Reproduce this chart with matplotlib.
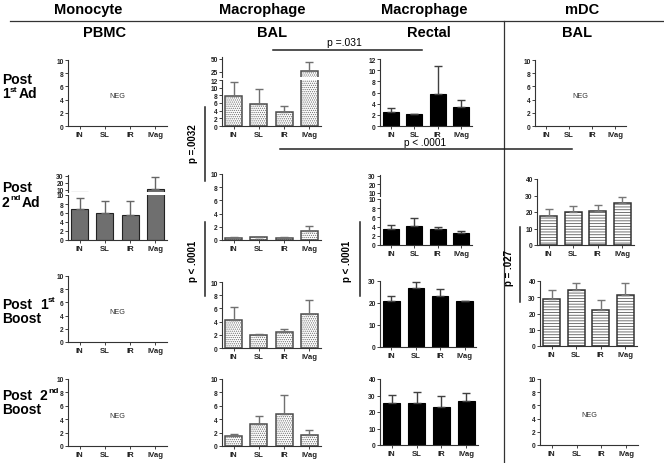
import numpy as np
import matplotlib
matplotlib.use('Agg')
import matplotlib.pyplot as plt

plt.rcParams['font.family'] = ['Liberation Sans', 'DejaVu Sans']
plt.rcParams['hatch.linewidth'] = 0.6

routes = ['IN', 'SL', 'IR', 'IVag']

# means and upper error (SEM)
mono_pbmc_ad2 = [6.8, 5.9, 5.6, 11.5]
mono_pbmc_ad2_err = [2.5, 2.7, 3.0, 16.5]

mac_bal_ad1 = [7.9, 5.7, 3.6, 27.0]
mac_bal_ad1_err = [3.6, 4.0, 1.5, 18.0]
mac_bal_ad2 = [0.35, 0.4, 0.35, 1.4]
mac_bal_ad2_err = [0.1, 0.1, 0.1, 0.7]
mac_bal_b1 = [4.3, 2.0, 2.5, 5.1]
mac_bal_b1_err = [1.9, 0.15, 0.4, 2.2]
mac_bal_b2 = [1.5, 3.3, 4.8, 1.6]
mac_bal_b2_err = [0.3, 1.2, 2.8, 0.8]

mac_rec_ad1 = [2.5, 2.1, 5.8, 3.4]
mac_rec_ad1_err = [0.8, 0.1, 5.0, 1.3]
mac_rec_ad2 = [3.4, 4.2, 3.4, 2.7]
mac_rec_ad2_err = [0.9, 1.7, 0.6, 0.4]
mac_rec_b1 = [21.0, 27.0, 23.2, 20.7]
mac_rec_b1_err = [2.0, 2.5, 3.1, 0.3]
mac_rec_b2 = [25.2, 25.7, 22.8, 26.5]
mac_rec_b2_err = [5.2, 6.5, 7.2, 5.3]

mdc_bal_ad2 = [17.8, 20.0, 20.5, 25.5]
mdc_bal_ad2_err = [4.0, 3.6, 3.8, 3.7]
mdc_bal_b1 = [28.7, 34.7, 22.0, 31.2]
mdc_bal_b1_err = [5.5, 4.2, 6.6, 7.7]

W, H = 664, 464
fig = plt.figure(figsize=(W / 100, H / 100), dpi=100)
x = np.arange(len(routes))

STYLES = {
    'dots': dict(face='white', hatch='........', hcol='#707070', edge='#4d4d4d', ecol='#707070'),
    'black': dict(face='black', hatch=None, hcol='black', edge='black', ecol='#404040'),
    'gray': dict(face='#6f6f6f', hatch=None, hcol='#6f6f6f', edge='#222222', ecol='#666666'),
    'lines': dict(face='white', hatch='------', hcol='#5a5a5a', edge='#333333', ecol='#777777'),
}


def px_axes(x0, y0, x1, y1):
    return fig.add_axes([x0 / W, 1 - y1 / H, (x1 - x0) / W, (y1 - y0) / H])


def style_ax(ax, xlabels=True, bottom=True):
    for s in ['top', 'right']:
        ax.spines[s].set_visible(False)
    ax.spines['left'].set_color('#333333')
    ax.spines['left'].set_linewidth(0.8)
    ax.spines['bottom'].set_color('#333333')
    ax.spines['bottom'].set_linewidth(0.8)
    ax.set_xlim(-0.47, 3.47)
    ax.set_xticks(x)
    ax.tick_params(axis='y', labelsize=4.8, length=2, width=0.6, pad=1, colors='#222222')
    ax.tick_params(axis='x', labelsize=5.6, length=2, width=0.6, pad=1.5, colors='#222222')
    if xlabels:
        ax.set_xticklabels(routes, fontweight='bold')
    else:
        ax.set_xticklabels([])
    if not bottom:
        ax.spines['bottom'].set_visible(False)
        ax.tick_params(axis='x', length=0)
    for t in ax.get_yticklabels():
        t.set_fontweight('bold')


def draw_bars(ax, means, errs, kind, err_min=None):
    st = STYLES[kind]
    if st['hatch']:
        ax.bar(x, means, 0.68, color=st['face'], edgecolor=st['hcol'], hatch=st['hatch'], linewidth=0)
        ax.bar(x, means, 0.68, fill=False, edgecolor=st['edge'], linewidth=1.1)
    else:
        ax.bar(x, means, 0.68, color=st['face'], edgecolor=st['edge'], linewidth=0.8)
    means = np.asarray(means, dtype=float)
    errs = np.asarray(errs, dtype=float)
    keep = np.ones(len(means), dtype=bool)
    if err_min is not None:
        keep = means + errs > err_min
    if keep.any():
        ax.errorbar(x[keep], means[keep], yerr=[np.zeros(keep.sum()), errs[keep]], fmt='none',
                    ecolor=st['ecol'], elinewidth=1, capsize=3, capthick=1)


def simple_panel(box, ymax, step, means=None, errs=None, kind=None):
    ax = px_axes(*box)
    if means is None:
        ax.text(1.5, 4.6, 'NEG', ha='center', va='center', fontsize=5.2, color='#333333')
    else:
        draw_bars(ax, means, errs, kind)
    ax.set_ylim(0, ymax)
    ax.set_yticks(np.arange(0, ymax + 0.01, step))
    style_ax(ax)
    return ax


def broken_panel(box, split, low, high, low_step, high_ticks, means, errs, kind):
    x0, y0, x1, y1 = box
    top = px_axes(x0, y0, x1, split - 3)
    bot = px_axes(x0, split, x1, y1)
    draw_bars(bot, means, errs, kind)
    draw_bars(top, means, errs, kind, err_min=low)
    bot.set_ylim(0, low)
    bot.set_yticks(np.arange(0, low + 0.01, low_step))
    top.set_ylim(*high)
    top.set_yticks(high_ticks)
    style_ax(bot)
    style_ax(top, xlabels=False, bottom=False)
    return top, bot


# column 1: Monocyte PBMC
simple_panel((68, 61, 167, 127), 10, 2)
broken_panel((68, 176, 167, 241), 196, 10, (7.0, 31), 2, [10, 20, 30],
             mono_pbmc_ad2, mono_pbmc_ad2_err, 'gray')
simple_panel((68, 277, 167, 343), 10, 2)
simple_panel((68, 380, 167, 447), 10, 2)

# column 2: Macrophage BAL
broken_panel((222, 58, 321, 127), 81, 12, (14, 54), 2, [25, 50],
             mac_bal_ad1, mac_bal_ad1_err, 'dots')
simple_panel((222, 175, 321, 241), 10, 2, mac_bal_ad2, mac_bal_ad2_err, 'dots')
simple_panel((222, 283, 321, 349), 10, 2, mac_bal_b1, mac_bal_b1_err, 'dots')
simple_panel((222, 380, 321, 447), 10, 2, mac_bal_b2, mac_bal_b2_err, 'dots')

# column 3: Macrophage Rectal
simple_panel((380, 60, 472, 127), 12, 2, mac_rec_ad1, mac_rec_ad1_err, 'black')
broken_panel((380, 176, 472, 246), 200, 10, (6.5, 31), 2, [10, 20, 30],
             mac_rec_ad2, mac_rec_ad2_err, 'black')
simple_panel((380, 282, 476, 348), 30, 10, mac_rec_b1, mac_rec_b1_err, 'black')
simple_panel((380, 380, 478, 446), 40, 10, mac_rec_b2, mac_rec_b2_err, 'black')

# column 4: mDC BAL
simple_panel((535, 61, 626, 127), 10, 2)
simple_panel((537, 180, 634, 246), 40, 10, mdc_bal_ad2, mdc_bal_ad2_err, 'lines')
simple_panel((540, 282, 637, 347), 40, 10, mdc_bal_b1, mdc_bal_b1_err, 'lines')
simple_panel((540, 380, 638, 446), 10, 2)

# overlay for headers, labels and significance brackets (pixel coordinates)
ov = fig.add_axes([0, 0, 1, 1], facecolor='none')
ov.set_xlim(0, W)
ov.set_ylim(H, 0)
ov.axis('off')

hdr = dict(ha='center', va='center', fontsize=10.5, fontweight='bold')
ov.text(88, 10, 'Monocyte', **hdr)
ov.text(262, 10, 'Macrophage', **hdr)
ov.text(424, 10, 'Macrophage', **hdr)
ov.text(582, 10, 'mDC', **hdr)
ov.plot([10, 664], [22, 22], color='#333333', lw=0.9)
ov.plot([504, 504], [22, 464], color='#333333', lw=0.9)

ov.text(105, 33, 'PBMC', **hdr)
ov.text(272, 33, 'BAL', **hdr)
ov.text(429, 33, 'Rectal', **hdr)
ov.text(577, 33, 'BAL', **hdr)

row = dict(ha='left', va='center', fontsize=10, fontweight='bold')
sup = dict(ha='left', va='center', fontsize=6, fontweight='bold')
ov.text(2, 80, 'Post', **row)
ov.text(2, 94, '1', **row)
ov.text(10, 90, 'st', **sup)
ov.text(19, 94, 'Ad', **row)
ov.text(2, 188, 'Post', **row)
ov.text(2, 203, '2', **row)
ov.text(10, 199, 'nd', **sup)
ov.text(22, 203, 'Ad', **row)
ov.text(2, 305, 'Post', **row)
ov.text(40, 305, '1', **row)
ov.text(48, 301, 'st', **sup)
ov.text(2, 319, 'Boost', **row)
ov.text(2, 396, 'Post', **row)
ov.text(40, 396, '2', **row)
ov.text(48, 392, 'nd', **sup)
ov.text(2, 410, 'Boost', **row)

# significance brackets
ov.plot([273, 422], [51, 51], color='#222222', lw=1.1)
ov.text(344, 43, 'p =.031', ha='center', va='center', fontsize=7.5)
ov.plot([280, 572], [150, 150], color='#222222', lw=1.1)
ov.text(425, 143, 'p < .0001', ha='center', va='center', fontsize=7.2)

ov.plot([205, 205], [108, 182], color='#222222', lw=1.1)
ov.text(193, 144, 'p =.0032', ha='center', va='center', fontsize=7, fontweight='bold', rotation=90)
ov.plot([205, 205], [223, 297], color='#222222', lw=1.1)
ov.text(193, 261, 'p < .0001', ha='center', va='center', fontsize=7, fontweight='bold', rotation=90)
ov.plot([360, 360], [223, 297], color='#222222', lw=1.1)
ov.text(347, 261, 'p < .0001', ha='center', va='center', fontsize=7, fontweight='bold', rotation=90)
ov.plot([520, 520], [228, 303], color='#222222', lw=1.1)
ov.text(509, 268, 'p = .027', ha='center', va='center', fontsize=7, fontweight='bold', rotation=90)

fig.savefig('out.png', dpi=100)
